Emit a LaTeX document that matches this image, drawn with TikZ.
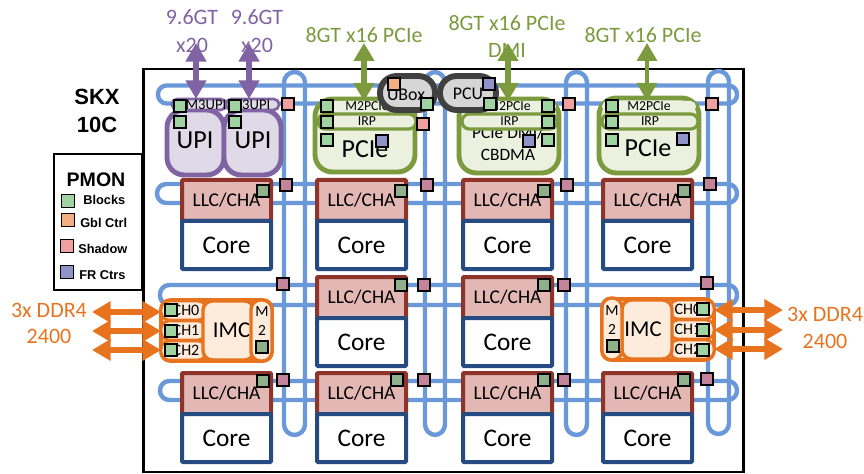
\documentclass[tikz,border=0pt]{standalone}
\usepackage{fontspec}
\setmainfont{Carlito}
\newfontfamily\legendfont{Liberation Sans}
\usetikzlibrary{arrows.meta}
\definecolor{ringb}{HTML}{6A98D8}
\definecolor{llcd}{HTML}{8F342B}
\definecolor{llcf}{HTML}{E3B7B3}
\definecolor{cored}{HTML}{264A82}
\definecolor{purd}{HTML}{7F63A3}
\definecolor{purf}{HTML}{E0DAE8}
\definecolor{grnd}{HTML}{7C9A3E}
\definecolor{grnf}{HTML}{EBF0DF}
\definecolor{ord}{HTML}{E8731F}
\definecolor{orf}{HTML}{FDEBDC}
\definecolor{gryd}{HTML}{404040}
\definecolor{gryf}{HTML}{D6D6D6}
\definecolor{sqg}{HTML}{9FD4A2}
\definecolor{sqgd}{HTML}{8FB08A}
\definecolor{sqo}{HTML}{F2AE80}
\definecolor{sqp}{HTML}{EFA0A0}
\definecolor{sqpd}{HTML}{C4849C}
\definecolor{sqf}{HTML}{8F94C8}
\newcommand{\fsz}[1]{\fontsize{#1}{#1}\selectfont}
\newcommand{\bx}[7][]{%
  \pgfmathsetmacro\bxw{((#5)-(#3))*0.75}%
  \pgfmathsetmacro\bxh{((#6)-(#4))*0.75}%
  \node[outer sep=0pt,inner sep=0pt,minimum width=\bxw pt,minimum height=\bxh pt,#1] (#2) at ({((#3)+(#5))/2},{((#4)+(#6))/2}) {#7};}
\newcommand{\cell}[3]{%
  \bx[llcbox]{llc#1}{#2+2}{#3+2}{#2+91}{#3+43}{LLC/CHA}
  \bx[corebox]{core#1}{#2+2}{#3+43}{#2+91}{#3+91}{Core}}
\tikzset{
  ring/.style={draw=ringb,line width=3.3pt},
  llcbox/.style={draw=llcd,fill=llcf,line width=3pt,rounded corners=0.8pt,font=\fsz{14.6}},
  corebox/.style={draw=cored,fill=white,line width=3pt,rounded corners=0.8pt,font=\fsz{19}},
  upibox/.style={draw=purd,fill=purf,line width=3.7pt,rounded corners=13pt},
  upistrip/.style={draw=purd,fill=purf,line width=2pt,rounded corners=4pt},
  striptxt/.style={inner sep=0pt,font=\fsz{11}},
  pciebox/.style={draw=grnd,fill=grnf,line width=3.7pt,rounded corners=13pt},
  bigtxt/.style={inner sep=0pt,font=\fsz{19.5}},
  m2strip/.style={fill=grnf,rounded corners=4pt,font=\fsz{10.3}},
  irpstrip/.style={draw=grnd,fill=grnf,line width=2.4pt,rounded corners=5.5pt,font=\fsz{10.3}},
  oval/.style={draw=gryd,fill=gryf,line width=4.4pt,rounded corners=12.5pt},
  ovaltxt/.style={inner sep=0pt,font=\fsz{13.4}},
  imcouter/.style={draw=ord,fill=orf,line width=2.8pt,rounded corners=7pt},
  imcin/.style={draw=ord,fill=orf,line width=2.6pt,rounded corners=7pt,font=\fsz{17}},
  chpill/.style={draw=ord,fill=orf,line width=2.2pt,rounded corners=6pt,font=\fsz{12}},
  sq/.style={draw=black,line width=0.95pt,minimum size=9pt,inner sep=0pt,outer sep=0pt},
  gsq/.style={sq,fill=sqg},
  gdsq/.style={sq,fill=sqgd},
  osq/.style={sq,fill=sqo},
  psq/.style={sq,fill=sqp},
  pdsq/.style={sq,fill=sqpd},
  fsq/.style={sq,fill=sqf},
  purarrow/.style={draw=purd,line width=4pt,{Triangle[width=15pt,length=14pt]}-{Triangle[width=15pt,length=14pt]}},
  grnarrow/.style={draw=grnd,line width=3.8pt,{Triangle[width=15pt,length=13.5pt]}-{Triangle[width=15pt,length=13.5pt]}},
  grnthin/.style={draw=grnd,line width=2.4pt,{Triangle[width=15pt,length=13.5pt]}-{Triangle[width=15pt,length=13.5pt]}},
  orarrow/.style={draw=ord,line width=4.1pt,{Triangle[width=15.5pt,length=14pt]}-{Triangle[width=15.5pt,length=14pt]}},
  lblp/.style={text=purd,font=\fsz{16.5},inner sep=0pt},
  lblg/.style={text=grnd,font=\fsz{16.5},inner sep=0pt},
  lblo/.style={text=ord,font=\fsz{16.5},inner sep=0pt},
  legtxt/.style={font=\legendfont\bfseries\fsz{9.6},inner sep=0pt,anchor=west},
}
\begin{document}
\begin{tikzpicture}[x=0.75pt,y=-0.75pt]
\useasboundingbox (0,0) rectangle (864,474);
% die
\node[draw=black,line width=2pt,minimum width=450pt,minimum height=302pt,inner sep=0pt,outer sep=0pt] (die) at (443.5,270.5) {};
% rings
\draw[ring,rounded corners=6.5pt] (158,85.5) rectangle (737,103.5);
\draw[ring,rounded corners=7pt] (157,184) rectangle (737,203);
\draw[ring,rounded corners=7pt] (160,285) rectangle (737,305);
\draw[ring,rounded corners=7pt] (160,381) rectangle (737,400);
\draw[ring,rounded corners=8pt] (284,72) rectangle (305,435);
\draw[ring,rounded corners=8pt] (425,72) rectangle (445,435);
\draw[ring,rounded corners=8pt] (566,72) rectangle (587,435);
\draw[ring,rounded corners=8pt] (708,71) rectangle (729,434);
% cells
\cell{a}{180}{178}
\cell{b}{315}{178}
\cell{c}{461}{178}
\cell{d}{601}{178}
\cell{e}{315}{275}
\cell{f}{461}{275}
\cell{g}{180}{371}
\cell{h}{315}{371}
\cell{i}{461}{371}
\cell{j}{601}{371}
% UPI
\bx[upibox]{upia}{167}{110}{224}{175}{}
\bx[upibox]{upib}{224}{110}{281}{175}{}
\node[bigtxt] (upita) at (195,140) {UPI};
\node[bigtxt] (upitb) at (253,140) {UPI};
\bx[upistrip]{m3a}{172}{99}{226}{110}{}
\bx[upistrip]{m3b}{226}{99}{279}{110}{}
\node[striptxt] (m3ta) at (206,105) {M3UPI};
\node[striptxt] (m3tb) at (250,105) {M3UPI};
% PCIe
\bx[pciebox]{pcieb}{315}{99}{415}{172}{}
\bx[pciebox]{pciec}{459}{99}{559}{173}{}
\bx[pciebox]{pcied}{599}{98}{699}{173}{}
\node[bigtxt] (pciet) at (365,149) {PCIe};
\node[bigtxt] (pciev) at (648,148) {PCIe};
\bx[m2strip]{m2b}{320}{101}{414}{112}{M2PCIe}
\bx[m2strip]{m2c}{462}{101}{556}{112}{M2PCIe}
\bx[m2strip]{m2d}{602}{101}{696}{112}{M2PCIe}
\node[inner sep=0pt,font=\fsz{13}] (dmi) at (508,133) {PCIe DMI/};
\node[inner sep=0pt,font=\fsz{13}] (cbd) at (508,155) {CBDMA};
\bx[irpstrip]{irpb}{318}{114}{416}{129}{IRP}
\bx[irpstrip]{irpc}{462}{114}{557}{129}{IRP}
\bx[irpstrip]{irpd}{602}{114}{698}{129}{IRP}
% UBox PCU
\bx[oval]{ubox}{380}{76}{435}{110}{}
\bx[oval]{pcu}{440}{76}{496}{110}{}
\node[ovaltxt] (ubt) at (406,95) {UBox};
\node[ovaltxt] (pct) at (468,94) {PCU};
% IMC left
\bx[imcouter]{imcl}{161}{300}{272}{361}{}
\bx[chpill]{ch0l}{161}{301}{206}{320}{\hspace*{3.8pt}CH0}
\bx[chpill]{ch1l}{161}{321}{206}{340}{\hspace*{3.8pt}CH1}
\bx[chpill]{ch2l}{161}{341}{206}{360}{\hspace*{3.8pt}CH2}
\bx[imcin]{imcbl}{203}{301}{254}{360}{\hspace*{4.5pt}IMC}
\bx[imcin]{m2l}{251}{300}{272}{361}{}
\node[inner sep=0pt,font=\fsz{11.6}] (m2lm) at (262,312) {M};
\node[inner sep=0pt,font=\fsz{11.6}] (m2ln) at (262,330) {2};
% IMC right
\bx[imcouter]{imcr}{602}{299}{714}{360}{}
\bx[chpill]{ch0r}{670}{300}{714}{319}{\hspace*{-6pt}CH0}
\bx[chpill]{ch1r}{670}{320}{714}{339}{\hspace*{-6pt}CH1}
\bx[chpill]{ch2r}{670}{340}{714}{359}{\hspace*{-6pt}CH2}
\bx[imcin]{imcbr}{622}{300}{672}{359}{\hspace*{-6pt}IMC}
\bx[imcin]{m2r}{602}{298}{622}{360}{}
\node[inner sep=0pt,font=\fsz{11.6}] (m2rm) at (612,311) {M};
\node[inner sep=0pt,font=\fsz{11.6}] (m2rn) at (612,329) {2};
% squares
\foreach \x/\y [count=\i] in {180/106,180/122,235/106,235/122,327/106,327/122,327/140,548/106,548/122,548/140,612/106,612/122,612/140,427/104,490/104,171/310,171/331,171/350,703/309,703/330,703/350}
  \node[gsq] (gs\i) at (\x,\y) {};
\foreach \x/\y [count=\i] in {263/191,401/191,544/191,684/191,401/285,544/285,263/381,397/380,544/380,684/380,262/347,613/346}
  \node[gdsq] (gd\i) at (\x,\y) {};
\foreach \x/\y [count=\i] in {288/104,423/124,569/104,712/104}
  \node[psq] (ps\i) at (\x,\y) {};
\foreach \x/\y [count=\i] in {286/185,427/185,567/185,710/184,283/284,424/285,564/285,707/283,283/380,424/380,564/380,707/379}
  \node[pdsq] (pd\i) at (\x,\y) {};
\foreach \x/\y [count=\i] in {382/141,529/141,683/139,489/84}
  \node[fsq] (fs\i) at (\x,\y) {};
\node[osq] (os1) at (394,84) {};
% labels
\node[lblp] (t1) at (192,17) {9.6GT};
\node[lblp] (t2) at (192,45) {x20};
\node[lblp] (t3) at (257,17) {9.6GT};
\node[lblp] (t4) at (257,45) {x20};
\node[lblg] (t5) at (364,35) {8GT x16 PCIe};
\node[lblg] (t6) at (507,23) {8GT x16 PCIe};
\node[lblg] (t7) at (507,50) {DMI};
\node[lblg] (t8) at (643,35) {8GT x16 PCIe};
\node[lblo] (t9) at (49,310) {3x DDR4};
\node[lblo] (t10) at (49,336) {2400};
\node[lblo] (t11) at (825,314) {3x DDR4};
\node[lblo] (t12) at (825,341) {2400};
% arrows
\coordinate (pa) at (196,43);
\coordinate (pb) at (249,43);
\coordinate (ga) at (364,43);
\coordinate (gb) at (508,43);
\coordinate (gc) at (647,43);
\draw[purarrow] (pa) -- (pa |- m3a.north);
\draw[purarrow] (pb) -- (pb |- m3b.north);
\draw[grnarrow] (ga) -- (ga |- m2b.north);
\draw[grnarrow] (gb) -- (gb |- m2c.north);
\draw[grnthin] (gc) -- (gc |- m2d.north);
\coordinate (ola) at (92,312);
\coordinate (olb) at (92,331);
\coordinate (olc) at (92,350);
\coordinate (ora) at (783,310);
\coordinate (orb) at (783,330);
\coordinate (orc) at (783,349);
\draw[orarrow] (ola) -- (ola -| ch0l.west);
\draw[orarrow] (olb) -- (olb -| ch1l.west);
\draw[orarrow] (olc) -- (olc -| ch2l.west);
\draw[orarrow] (ora) -- (ora -| ch0r.east);
\draw[orarrow] (orb) -- (orb -| ch1r.east);
\draw[orarrow] (orc) -- (orc -| ch2r.east);
\node[inner sep=0pt,font=\legendfont\bfseries\fsz{16.5}] (skx) at (97,97) {SKX};
\node[inner sep=0pt,font=\legendfont\bfseries\fsz{16.5}] (ten) at (97,125) {10C};
% legend
\node[draw=black,line width=0.8pt,minimum width=66pt,minimum height=102pt,inner sep=0pt,outer sep=0pt] (leg) at (98,222) {};
\node[inner sep=0pt,font=\legendfont\bfseries\fsz{14.7}] (pm) at (96,180) {PMON};
\node[gsq,minimum size=9.5pt] (l1) at (68,201) {};
\node[osq,minimum size=9.5pt] (l2) at (68,220) {};
\node[psq,minimum size=9.5pt] (l3) at (67,246) {};
\node[fsq,minimum size=9.5pt] (l4) at (67,272) {};
\node[legtxt] (lt1) at (83,200) {Blocks};
\node[legtxt] (lt2) at (80,223) {Gbl Ctrl};
\node[legtxt] (lt3) at (78,249) {Shadow};
\node[legtxt] (lt4) at (79,275) {FR Ctrs};
\end{tikzpicture}
\end{document}
